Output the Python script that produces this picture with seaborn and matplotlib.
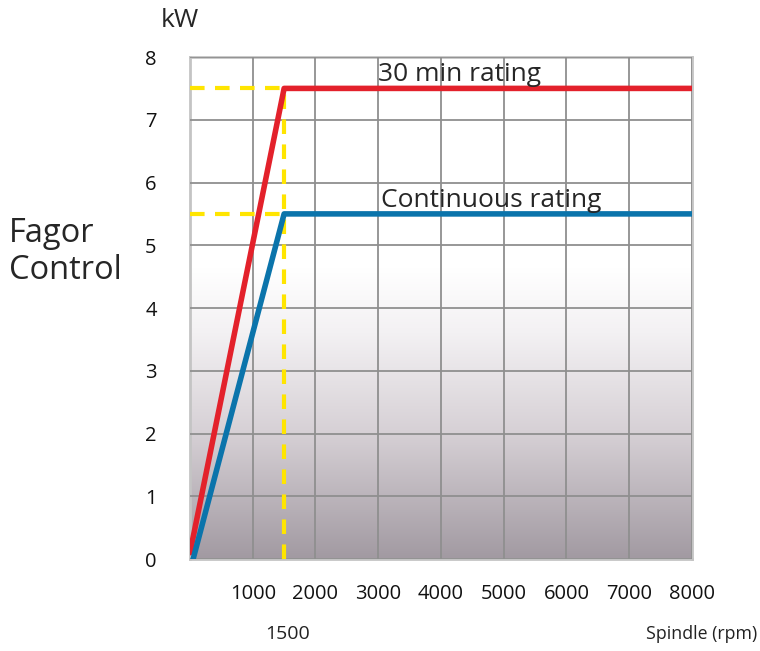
import numpy as np
import pandas as pd
import matplotlib
matplotlib.use('Agg')
import matplotlib.pyplot as plt
from matplotlib.colors import LinearSegmentedColormap
import seaborn as sns

# Power curves (kW vs spindle rpm)
speed_30min = [0, 1500, 8000]
power_30min = [0.1, 7.5, 7.5]
speed_cont = [50, 1500, 8000]
power_cont = [0, 5.5, 5.5]
base_speed = 1500
x_ticks = [1000, 2000, 3000, 4000, 5000, 6000, 7000, 8000]
y_ticks = [0, 1, 2, 3, 4, 5, 6, 7, 8]

sns.set_style('white')
plt.rcParams['font.family'] = ['Open Sans', 'DejaVu Sans']

fig = plt.figure(figsize=(7.6, 6.51), dpi=100)
ax = fig.add_axes([0.25, 0.1413, 0.6605, 0.7711])

# Gradient background: white at top, mauve grey at bottom
grad = np.linspace(0, 1, 256).reshape(-1, 1)
cmap = LinearSegmentedColormap.from_list(
    'bg', [(0.0, '#a29aa2'), (0.25, '#d6d0d5'), (0.45, '#f3f1f3'), (0.58, '#ffffff'), (1.0, '#ffffff')])
ax.imshow(grad, extent=[0, 8000, 0, 8], origin='lower', aspect='auto', cmap=cmap, zorder=0)

ax.set_xlim(0, 8000)
ax.set_ylim(0, 8)
ax.set_xticks(x_ticks)
ax.set_yticks(y_ticks)
ax.grid(True, color='#8f8f8f', linewidth=1.3, zorder=1)
ax.set_axisbelow(False)
for s in ax.spines.values():
    s.set_color('#c4c4c4')
    s.set_linewidth(2)
ax.tick_params(length=0, labelsize=14.5, colors='#111111')
ax.tick_params(axis='y', pad=24)
ax.tick_params(axis='x', pad=18)

# Yellow dashed guide lines
yel = dict(color='#ffe500', linewidth=3, linestyle=(0, (3.5, 2.5)), zorder=3)
ax.plot([0, base_speed], [power_30min[1], power_30min[1]], **yel)
ax.plot([0, base_speed], [power_cont[1], power_cont[1]], **yel)
ax.plot([base_speed, base_speed], [0, power_30min[1]], **yel)

df_30 = pd.DataFrame({'rpm': speed_30min, 'kW': power_30min})
df_c = pd.DataFrame({'rpm': speed_cont, 'kW': power_cont})
sns.lineplot(data=df_30, x='rpm', y='kW', color='#e3212b', linewidth=4, ax=ax, zorder=4)
sns.lineplot(data=df_c, x='rpm', y='kW', color='#0b74ab', linewidth=4, ax=ax, zorder=4)
ax.set_xlabel('')
ax.set_ylabel('')

ax.text(2990, 7.52, '30 min rating', fontsize=19, va='bottom', ha='left', zorder=5)
ax.text(3050, 5.52, 'Continuous rating', fontsize=19, va='bottom', ha='left', zorder=5)

fig.text(0.237, 0.968, 'kW', fontsize=19, ha='center', va='center')
fig.text(0.012, 0.613, 'Fagor\nControl', fontsize=23.5, ha='left', va='center', linespacing=1.15)
fig.text(0.378, 0.026, '1500', fontsize=14, ha='center', va='center', color='#222222')
fig.text(0.997, 0.026, 'Spindle (rpm)', fontsize=12.8, ha='right', va='center', color='#222222')

fig.savefig('out.png', dpi=100)
